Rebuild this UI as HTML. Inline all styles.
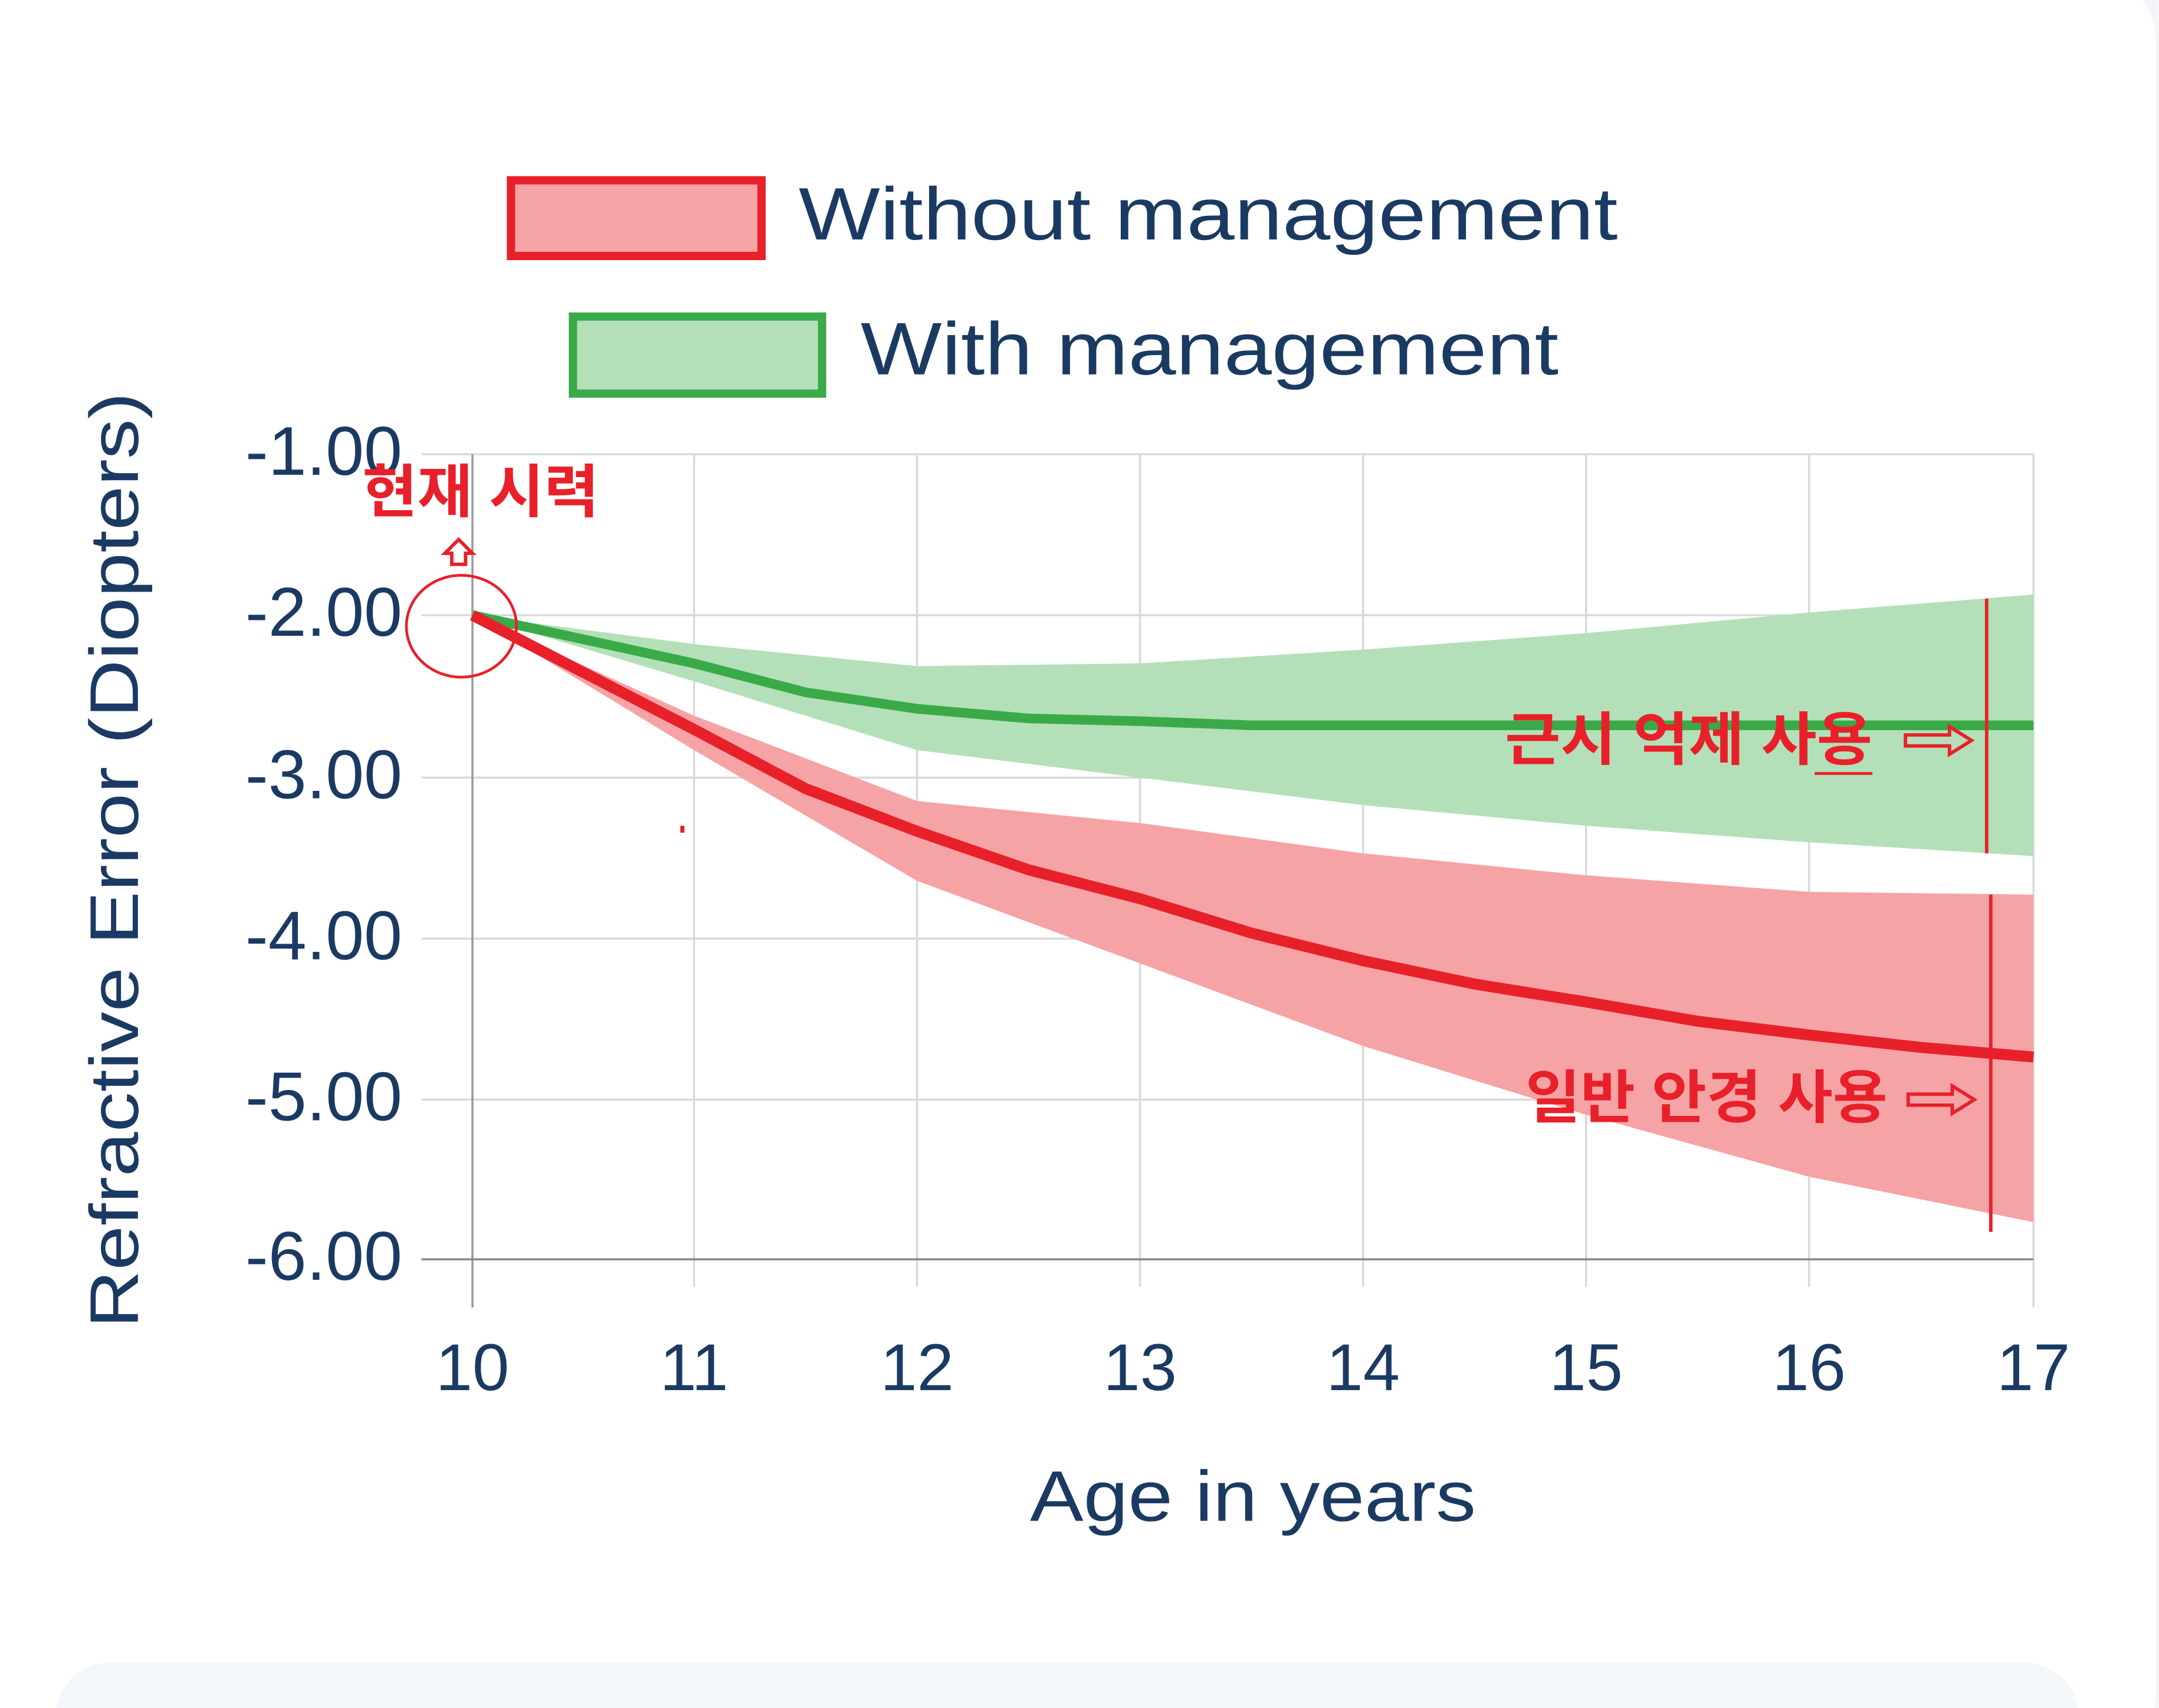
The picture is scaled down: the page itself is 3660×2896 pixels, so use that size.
<!DOCTYPE html>
<html><head><meta charset="utf-8"><style>
html,body{margin:0;padding:0;background:#fff;}
svg{display:block;}
</style></head><body>
<svg width="3660" height="2896" viewBox="0 0 1568 1241" xmlns="http://www.w3.org/2000/svg">
<rect width="1568" height="1241" fill="#f4f5f8"/>
<rect x="-20" y="-20" width="1586" height="1300" rx="50" fill="#fff"/>
<rect x="40" y="1208" width="1470" height="80" rx="40" fill="#f3f6fb"/>
<g font-family="Liberation Sans, sans-serif" fill="#1b3a63">
<rect x="371" y="131" width="182" height="55" fill="#f6a3a6" stroke="#e8202a" stroke-width="6"/>
<text x="580" y="174" font-size="54" textLength="595" lengthAdjust="spacingAndGlyphs">Without management</text>
<rect x="416" y="230" width="181" height="56" fill="#b3e0b8" stroke="#3aaa48" stroke-width="6"/>
<text x="625" y="272" font-size="54" textLength="507" lengthAdjust="spacingAndGlyphs">With management</text>
<g stroke="#d9d9d9" stroke-width="1.5">
<line x1="306" y1="330" x2="1477" y2="330"/><line x1="306" y1="447" x2="1477" y2="447"/>
<line x1="306" y1="565" x2="1477" y2="565"/><line x1="306" y1="682" x2="1477" y2="682"/>
<line x1="306" y1="799" x2="1477" y2="799"/>
<line x1="504" y1="330" x2="504" y2="935"/><line x1="666" y1="330" x2="666" y2="935"/>
<line x1="828" y1="330" x2="828" y2="935"/><line x1="990" y1="330" x2="990" y2="935"/>
<line x1="1152" y1="330" x2="1152" y2="935"/><line x1="1314" y1="330" x2="1314" y2="935"/>
<line x1="1477" y1="330" x2="1477" y2="950"/>
</g>
<line x1="343" y1="330" x2="343" y2="950" stroke="#999" stroke-width="1.5"/>
<line x1="306" y1="915" x2="1477" y2="915" stroke="#888" stroke-width="1.5"/>
<g font-size="50" text-anchor="end">
<text x="292" y="345">-1.00</text><text x="292" y="462">-2.00</text>
<text x="292" y="580">-3.00</text><text x="292" y="697">-4.00</text>
<text x="292" y="814">-5.00</text><text x="292" y="930">-6.00</text>
</g>
<g font-size="48" text-anchor="middle">
<text x="343" y="1010">10</text><text x="504" y="1010">11</text><text x="666" y="1010">12</text>
<text x="828" y="1010">13</text><text x="990" y="1010">14</text><text x="1152" y="1010">15</text>
<text x="1314" y="1010">16</text><text x="1477" y="1010">17</text>
</g>
<text x="748" y="1105" font-size="52" textLength="324" lengthAdjust="spacingAndGlyphs">Age in years</text>
<text transform="translate(100,965) rotate(-90)" font-size="50" textLength="680" lengthAdjust="spacingAndGlyphs">Refractive Error (Diopters)</text>
</g>
<path d="M343,447 L504,468 L666,484 L828,482 L990,472 L1152,460 L1314,445 L1477,432 L1477,622 L1314,612 L1152,600 L990,585 L828,565 L666,545 L504,495 Z" fill="#b3e0b8"/>
<path d="M343,447 L504,520 L666,582 L828,598 L990,620 L1152,636 L1314,648 L1477,650 L1477,888 L1314,855 L1152,810 L990,760 L828,700 L666,640 L504,545 Z" fill="#f6a3a6"/>
<polyline points="343,447 504,482 585,503 666,515 747,522 828,524 909,527 990,527 1152,527 1314,527 1477,527" fill="none" stroke="#3aaa48" stroke-width="7"/>
<polyline points="343,447 504,530 585,573 666,604 747,632 828,653 909,678 990,698 1071,715 1152,728 1233,742 1314,752 1395,761 1477,768" fill="none" stroke="#e8202a" stroke-width="8"/>
<g fill="#e8202a" font-family="Liberation Sans, 'Noto Sans CJK KR', sans-serif" font-weight="bold" font-size="42">
<text x="263" y="372" textLength="172" lengthAdjust="spacingAndGlyphs">현재 시력</text>
<text x="1093" y="552" textLength="267" lengthAdjust="spacingAndGlyphs">근시 억제 사용</text>
<text x="1108" y="812" textLength="263" lengthAdjust="spacingAndGlyphs">일반 안경 사용</text>
</g>
<g fill="none" stroke="#e8202a" stroke-width="2.5">
<path d="M1384,534 h32 v-6 l16,10 l-16,10 v-6 h-32 z"/>
<path d="M1386,795 h32 v-6 l16,10 l-16,10 v-6 h-32 z"/>
<path d="M328,410 v-8 h-5 l10,-10 l10,10 h-5 v8 z"/>
</g>
<line x1="1318" y1="562" x2="1360" y2="562" stroke="#e8202a" stroke-width="2"/>
<ellipse cx="335" cy="455" rx="40" ry="37" fill="none" stroke="#e8202a" stroke-width="2"/>
<line x1="1443" y1="435" x2="1443" y2="620" stroke="#e8202a" stroke-width="2.5"/>
<line x1="1446" y1="650" x2="1446" y2="895" stroke="#e8202a" stroke-width="2.5"/>
<rect x="494" y="600" width="3" height="5" fill="#e8202a"/>
</svg>
</body></html>
